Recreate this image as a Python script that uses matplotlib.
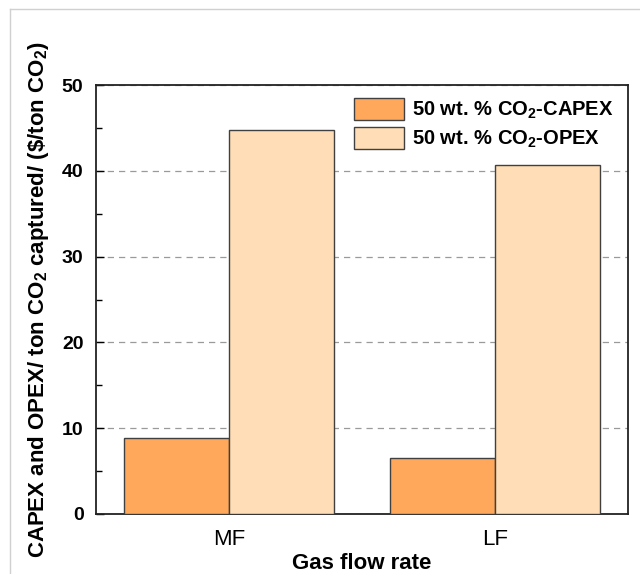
import matplotlib
matplotlib.use("Agg")
import matplotlib.pyplot as plt
import numpy as np
from matplotlib.lines import Line2D
from matplotlib.ticker import MultipleLocator

plt.rcParams['font.family'] = ['Liberation Sans', 'DejaVu Sans']
plt.rcParams['mathtext.fontset'] = 'custom'
plt.rcParams['mathtext.rm'] = 'Liberation Sans'
plt.rcParams['mathtext.bf'] = 'Liberation Sans:bold'
plt.rcParams['mathtext.it'] = 'Liberation Sans:italic'

categories = ["MF", "LF"]
capex = [8.85, 6.55]
opex = [44.8, 40.7]
series_labels = ["50 wt. % CO$_\\mathbf{2}$-CAPEX", "50 wt. % CO$_\\mathbf{2}$-OPEX"]
yticks = [0, 10, 20, 30, 40, 50]

fig = plt.figure(figsize=(6.4, 5.74), dpi=100)
ax = fig.add_axes([96/640, 1-514/574, 532/640, (514-85)/574])

x = np.arange(len(categories))
w = 0.395
ec = '#404040'
ax.bar(x - w/2, capex, width=w, color='#FFA85B', edgecolor=ec, linewidth=1.0, label=series_labels[0], zorder=3)
ax.bar(x + w/2, opex, width=w, color='#FFDDB6', edgecolor=ec, linewidth=1.0, label=series_labels[1], zorder=3)

ax.set_xlim(-0.5, 1.5)
ax.set_ylim(0, 50)
ax.set_xticks(x)
ax.set_xticklabels(categories, fontsize=16)
ax.tick_params(axis='x', length=0, pad=11)
ax.set_yticks(yticks)
ax.yaxis.set_minor_locator(MultipleLocator(5))
ax.tick_params(axis='y', which='both', direction='in', left=True, right=False, labelsize=14, pad=9)
ax.tick_params(axis='y', which='major', length=6, width=1)
ax.tick_params(axis='y', which='minor', length=4, width=1)
for lbl in ax.get_yticklabels():
    lbl.set_fontweight('bold')

ax.grid(axis='y', linestyle=(0, (5, 4)), color='#9a9a9a', linewidth=0.9, zorder=0)
for s in ax.spines.values():
    s.set_linewidth(1.3)
    s.set_color('#222222')

ax.set_xlabel("Gas flow rate", fontsize=16, fontweight='bold', labelpad=2)
ax.set_ylabel("CAPEX and OPEX/ ton CO$_\\mathbf{2}$ captured/ (\\$/ton CO$_\\mathbf{2}$)",
              fontsize=16, fontweight='bold', labelpad=8)

leg = ax.legend(loc='upper right', frameon=False, handlelength=2.5, handleheight=1.3,
                borderaxespad=0.3, labelspacing=0.3, handletextpad=0.4,
                bbox_to_anchor=(1.0, 1.003), prop={'weight': 'bold', 'size': 14.5})

# light gray frame of the original image
fig.add_artist(Line2D([10/640, 1], [1-9/574, 1-9/574], color='#d0d0d0', linewidth=1.0, transform=fig.transFigure))
fig.add_artist(Line2D([10/640, 10/640], [0, 1-9/574], color='#d0d0d0', linewidth=1.0, transform=fig.transFigure))

fig.savefig("out.png", dpi=100)
